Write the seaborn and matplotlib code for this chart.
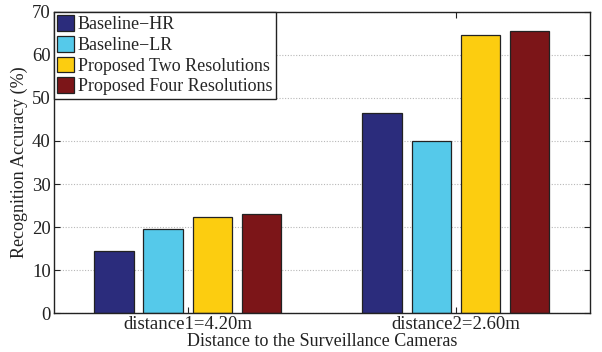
import matplotlib
matplotlib.use("Agg")
import matplotlib.pyplot as plt
import seaborn as sns
import pandas as pd
from matplotlib.patches import Patch

# Chart values
distances = ["distance1=4.20m", "distance2=2.60m"]
methods = ["Baseline\u2212HR", "Baseline\u2212LR",
           "Proposed Two Resolutions", "Proposed Four Resolutions"]
baseline_hr = [14.5, 46.5]
baseline_lr = [19.6, 40.1]
proposed_two = [22.4, 64.6]
proposed_four = [23.0, 65.5]
colors = ["#2B2C7C", "#55C9EA", "#FCCD10", "#7C1518"]
y_ticks = [0, 10, 20, 30, 40, 50, 60, 70]

rows = []
for method, vals in zip(methods, [baseline_hr, baseline_lr, proposed_two, proposed_four]):
    for d, v in zip(distances, vals):
        rows.append({"distance": d, "method": method, "accuracy": v})
df = pd.DataFrame(rows)

sns.set_style("white")
plt.rcParams["font.family"] = ["Liberation Serif", "DejaVu Serif"]

fig = plt.figure(figsize=(6.02, 3.52), dpi=100)
ax = fig.add_axes([53.5 / 602, 1 - 313.3 / 352, (590 - 53.5) / 602, (313.3 - 11.7) / 352])

sns.barplot(data=df, x="distance", y="accuracy", hue="method", hue_order=methods,
            order=distances, palette=colors, saturation=1, width=0.733, gap=0.2,
            edgecolor="#222222", linewidth=0.9, legend=False, ax=ax)

ax.set_xlim(-0.5, 1.5)
ax.set_ylim(0, 70)
ax.set_yticks(y_ticks)
ax.set_yticklabels([str(t) for t in y_ticks])
ax.yaxis.grid(True, linestyle=(0, (1, 1.5)), color="#b8b8b8", linewidth=0.8)
ax.set_axisbelow(True)

for s in ax.spines.values():
    s.set_visible(True)
    s.set_color("#222222")
    s.set_linewidth(1.0)

ax.tick_params(axis="both", which="both", direction="in", top=True, right=True,
               bottom=True, left=True, length=4, width=0.8, color="#222222",
               labelsize=13.5, labelcolor="#222222", pad=2)

ax.set_xlabel("Distance to the Surveillance Cameras", fontsize=13, color="#222222", labelpad=0)
ax.set_ylabel("Recognition Accuracy (%)", fontsize=13, color="#222222", labelpad=3)

handles = [Patch(facecolor=c, edgecolor="#222222", linewidth=0.9) for c in colors]
leg = ax.legend(handles, methods, loc="upper left", fontsize=13, frameon=True,
                fancybox=False, edgecolor="#222222", framealpha=1,
                borderaxespad=0.0, handlelength=0.95, handleheight=0.95,
                handletextpad=0.2, labelspacing=0.15, borderpad=0.2)
leg.get_frame().set_linewidth(1.0)

fig.savefig("out.png", dpi=100)
